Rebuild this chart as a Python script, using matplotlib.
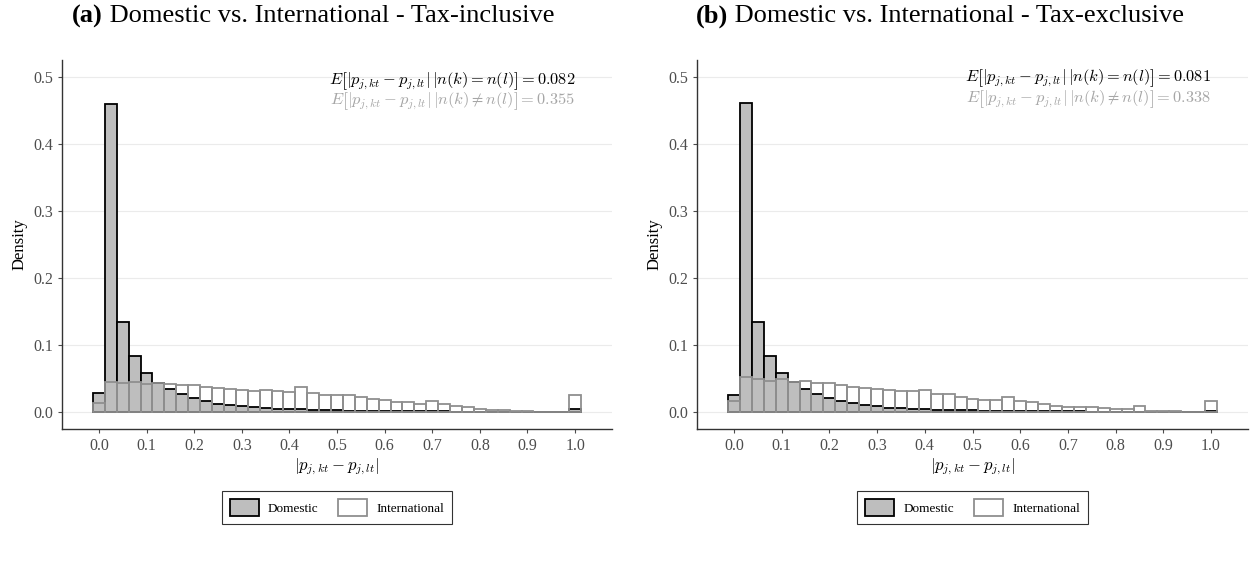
import numpy as np
import matplotlib
matplotlib.use("Agg")
import matplotlib.pyplot as plt
from matplotlib.patches import Patch

plt.rcParams['font.family'] = ['Liberation Serif', 'DejaVu Serif']
plt.rcParams['mathtext.fontset'] = 'cm'

# bin centres of the histograms (binwidth 0.025)
bins = np.arange(41) * 0.025

dom_incl = [0.028, 0.459, 0.135, 0.084, 0.058, 0.044, 0.034, 0.027, 0.021, 0.016,
            0.013, 0.011, 0.009, 0.0075, 0.0065, 0.0055, 0.0045, 0.0042, 0.0035, 0.003,
            0.0027, 0.0025, 0.0022, 0.002, 0.0018, 0.0016, 0.0015, 0.0013, 0.0012, 0.0011,
            0.001, 0.0009, 0.0008, 0.0007, 0.0006, 0.0006, 0.0005, 0.0005, 0.0005, 0.0005,
            0.0045]
intl_incl = [0.014, 0.045, 0.043, 0.045, 0.042, 0.043, 0.042, 0.041, 0.040, 0.037,
             0.036, 0.035, 0.033, 0.032, 0.033, 0.032, 0.030, 0.037, 0.029, 0.026,
             0.025, 0.025, 0.022, 0.020, 0.018, 0.0145, 0.0145, 0.013, 0.017, 0.012,
             0.010, 0.008, 0.0055, 0.004, 0.003, 0.002, 0.0015, 0.001, 0.001, 0.001,
             0.026]
dom_excl = [0.025, 0.461, 0.135, 0.084, 0.058, 0.045, 0.034, 0.027, 0.021, 0.016,
            0.0135, 0.011, 0.0095, 0.007, 0.006, 0.0055, 0.0045, 0.004, 0.0035, 0.003,
            0.0027, 0.0025, 0.0022, 0.002, 0.0018, 0.0016, 0.0015, 0.0013, 0.0012, 0.0011,
            0.001, 0.0009, 0.0008, 0.0007, 0.0007, 0.0006, 0.0005, 0.0005, 0.0005, 0.0005,
            0.0025]
intl_excl = [0.016, 0.052, 0.050, 0.047, 0.050, 0.045, 0.047, 0.044, 0.044, 0.040,
             0.038, 0.036, 0.035, 0.0325, 0.0315, 0.0315, 0.033, 0.0275, 0.027, 0.022,
             0.020, 0.018, 0.018, 0.022, 0.016, 0.015, 0.013, 0.010, 0.0085, 0.0085,
             0.0085, 0.006, 0.0045, 0.0045, 0.010, 0.0025, 0.002, 0.0015, 0.001, 0.001,
             0.016]

titles = [("(a)", " Domestic vs. International - Tax-inclusive"),
          ("(b)", " Domestic vs. International - Tax-exclusive")]
means = [("0.082", "0.355"), ("0.081", "0.338")]
xticks = np.round(np.arange(0, 1.01, 0.1), 1)
yticks = np.round(np.arange(0, 0.51, 0.1), 1)

DOM_FILL = '#bebebe'
INTL_EDGE = '#8f8f8f'

fig = plt.figure(figsize=(12.53, 5.61), dpi=100)
axes = [fig.add_axes([62 / 1253, 1 - 429 / 561, 550 / 1253, 369 / 561]),
        fig.add_axes([697 / 1253, 1 - 429 / 561, 551 / 1253, 369 / 561])]
panels = [(dom_incl, intl_incl), (dom_excl, intl_excl)]
ann_y = [(0.494, 0.463), (0.498, 0.466)]

for ax, (dom, intl), (m_eq, m_neq), (y1, y2) in zip(axes, panels, means, ann_y):
    ax.bar(bins, dom, width=0.025, color=DOM_FILL, edgecolor='black', linewidth=1.3, zorder=2)
    ax.bar(bins, intl, width=0.025, facecolor='none', edgecolor=INTL_EDGE, linewidth=1.3, zorder=3)

    ax.set_xlim(-0.0775, 1.0775)
    ax.set_ylim(-0.025, 0.525)
    ax.set_xticks(xticks)
    ax.set_xticklabels([f"{v:.1f}" for v in xticks])
    ax.set_yticks(yticks)
    ax.set_yticklabels([f"{v:.1f}" for v in yticks])
    ax.tick_params(axis='both', labelsize=11.5, labelcolor='#4d4d4d', color='#4d4d4d',
                   length=3, width=0.8)
    ax.yaxis.grid(True, color='#ebebeb', linewidth=0.8, zorder=0)
    ax.set_axisbelow(True)
    for s in ['top', 'right']:
        ax.spines[s].set_visible(False)
    for s in ['left', 'bottom']:
        ax.spines[s].set_color('#333333')
        ax.spines[s].set_linewidth(1.0)

    ax.set_ylabel('Density', fontsize=12)
    ax.set_xlabel(r'$|p_{j,kt} - p_{j,lt}|$', fontsize=12, labelpad=2)

    ax.text(1.0, y1, r'$E\left[|p_{j,kt} - p_{j,lt}|\,|n(k) = n(l)\right] = ' + m_eq + '$',
            ha='right', va='center', fontsize=11.8, color='black')
    ax.text(1.0, y2, r'$E\left[|p_{j,kt} - p_{j,lt}|\,|n(k) \neq n(l)\right] = ' + m_neq + '$',
            ha='right', va='center', fontsize=11.8, color='#a6a6a6')

    handles = [Patch(facecolor=DOM_FILL, edgecolor='black', linewidth=1.3, label='Domestic'),
               Patch(facecolor='white', edgecolor=INTL_EDGE, linewidth=1.3, label='International')]
    leg = ax.legend(handles=handles, loc='upper center', bbox_to_anchor=(0.5, -0.15), ncol=2,
                    fontsize=9.5, frameon=True, fancybox=False, handlelength=2.2,
                    handleheight=1.6, columnspacing=1.5, borderpad=0.6, handletextpad=0.7)
    leg.get_frame().set_edgecolor('black')
    leg.get_frame().set_linewidth(0.8)

# panel captions: bold label followed by normal text, centred
fig.canvas.draw()
renderer = fig.canvas.get_renderer()
for (lab, rest), xc in zip(titles, [313 / 1253, 940 / 1253]):
    t1 = fig.text(0, 1 - 16 / 561, lab, fontsize=19, fontweight='bold', va='center')
    t2 = fig.text(0, 1 - 16 / 561, rest, fontsize=19, va='center')
    w1 = t1.get_window_extent(renderer).width / fig.bbox.width
    w2 = t2.get_window_extent(renderer).width / fig.bbox.width
    x0 = xc - (w1 + w2) / 2
    t1.set_x(x0)
    t2.set_x(x0 + w1)

fig.savefig('out.png', dpi=100)
